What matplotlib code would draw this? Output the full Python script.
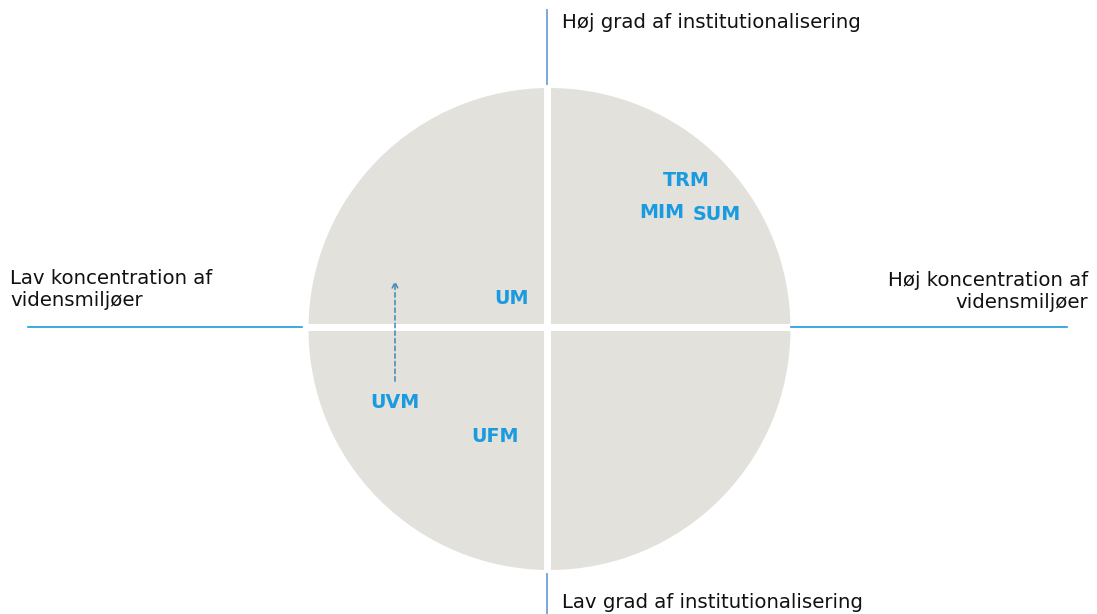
import matplotlib.pyplot as plt
from matplotlib.patches import Circle, Rectangle

# Ministry labels and their placement (pixel coordinates of the original graphic)
labels = ["TRM", "MIM", "SUM", "UM", "UVM", "UFM"]
label_x = [686, 662, 717, 512, 395, 495]
label_y = [181, 212, 214, 299, 403, 436]

# Axis captions
top_text = "Høj grad af institutionalisering"
bottom_text = "Lav grad af institutionalisering"
left_text = "Lav koncentration af\nvidensmiljøer"
right_text = "Høj koncentration af\nvidensmiljøer"

blue = "#1a9be0"
grey = "#e3e1dc"

fig = plt.figure(figsize=(10.97, 6.14), dpi=100)
ax = fig.add_axes([0, 0, 1, 1])
ax.set_xlim(0, 1097)
ax.set_ylim(614, 0)
ax.set_aspect("equal")
ax.axis("off")

# Circle split into quadrants by a white cross
ax.add_patch(Circle((549.5, 329), 241, color=grey, lw=0))
ax.add_patch(Rectangle((543.5, 80), 7, 500, color="white", lw=0))
ax.add_patch(Rectangle((300, 323.5), 500, 7, color="white", lw=0))

# Axis lines outside the circle
ax.plot([547, 547], [10, 84], color="#6fa3d6", lw=1.3)
ax.plot([547, 547], [574, 614], color="#6fa3d6", lw=1.3)
ax.plot([28, 302], [327, 327], color=blue, lw=1.2)
ax.plot([791, 1067], [327, 327], color=blue, lw=1.2)

# Captions
fs = 14.2
ax.text(562, 23, top_text, fontsize=fs, ha="left", va="center", color="#111111")
ax.text(562, 602, bottom_text, fontsize=fs, ha="left", va="center", color="#111111")
ax.text(10, 289, left_text, fontsize=fs, ha="left", va="center", color="#111111",
        linespacing=1.2)
ax.text(1088, 291, right_text, fontsize=fs, ha="right", va="center", color="#111111",
        linespacing=1.2)

# Ministry labels
for name, x, y in zip(labels, label_x, label_y):
    ax.text(x, y, name, fontsize=13.8, fontweight="bold", color=blue,
            ha="center", va="center")

# Dashed arrow from UVM upwards
ax.annotate("", xy=(395, 278), xytext=(395, 384),
            arrowprops=dict(arrowstyle="->", color="#3d8ab8", lw=1.1,
                            linestyle=(0, (3, 2)), mutation_scale=10))

fig.savefig("out.png", dpi=100)
